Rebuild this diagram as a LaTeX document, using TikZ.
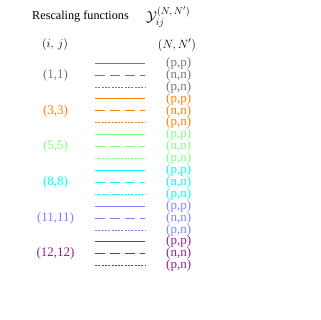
\documentclass[tikz,border=0pt]{standalone}
\usepackage{fontspec}
\setmainfont{Liberation Serif}
\definecolor{cgray}{RGB}{120,120,120}
\definecolor{corange}{RGB}{255,128,0}
\definecolor{cgreen}{RGB}{128,255,128}
\definecolor{ccyan}{RGB}{0,255,255}
\definecolor{cblue}{RGB}{128,128,255}
\definecolor{cpurple}{RGB}{150,30,150}
\begin{document}
\begin{tikzpicture}[x=1pt,y=-1pt,
  lbl/.style={font=\fontsize{13}{13}\selectfont, inner sep=0pt},
  ttl/.style={font=\fontsize{12.2}{13}\selectfont, inner sep=0pt},
  solidln/.style={line width=1pt},
  dashln/.style={line width=1pt, dash pattern=on 10pt off 5pt},
  dotln/.style={line width=0.7pt, dash pattern=on 2pt off 1.3pt}]
\useasboundingbox (0,0) rectangle (320,320);
\node[ttl] (title) at (80.5,17) {Rescaling functions};
\node[font=\fontsize{14}{14}\selectfont, inner sep=0pt, anchor=west] (ysym) at (146,17) {$\mathcal{Y}_{ij}^{(N,\,N')}$};
\node[lbl] (ij) at (55,45) {$(i,\,j)$};
\node[lbl] (nn) at (177,45) {$(N,N')$};
\foreach \c/\lab [count=\k from 0] in {cgray/{(1,1)},corange/{(3,3)},cgreen/{(5,5)},ccyan/{(8,8)},cblue/{(11,11)},cpurple/{(12,12)}}{
  \pgfmathsetmacro{\ya}{63.3+35.7*\k}
  \pgfmathsetmacro{\yb}{\ya+11.9}
  \pgfmathsetmacro{\yc}{\ya+23.8}
  \node[lbl,text=\c] (g\k) at (55.5,\yb) {\lab};
  \coordinate (a\k s) at (95,\ya); \coordinate (a\k e) at (145,\ya);
  \coordinate (b\k s) at (95,\yb); \coordinate (b\k e) at (145,\yb);
  \coordinate (c\k s) at (95,\yc); \coordinate (c\k e) at (145,\yc);
  \draw[solidln,\c] (a\k s) -- (a\k e);
  \draw[dashln,\c] (b\k s) -- (b\k e);
  \draw[dotln,\c] (c\k s) -- (c\k e);
  \node[lbl,text=\c,anchor=west] (pa\k) at (166,\ya) {(p,p)};
  \node[lbl,text=\c,anchor=west] (pb\k) at (166,\yb) {(n,n)};
  \node[lbl,text=\c,anchor=west] (pc\k) at (166,\yc) {(p,n)};
}
\end{tikzpicture}
\end{document}
